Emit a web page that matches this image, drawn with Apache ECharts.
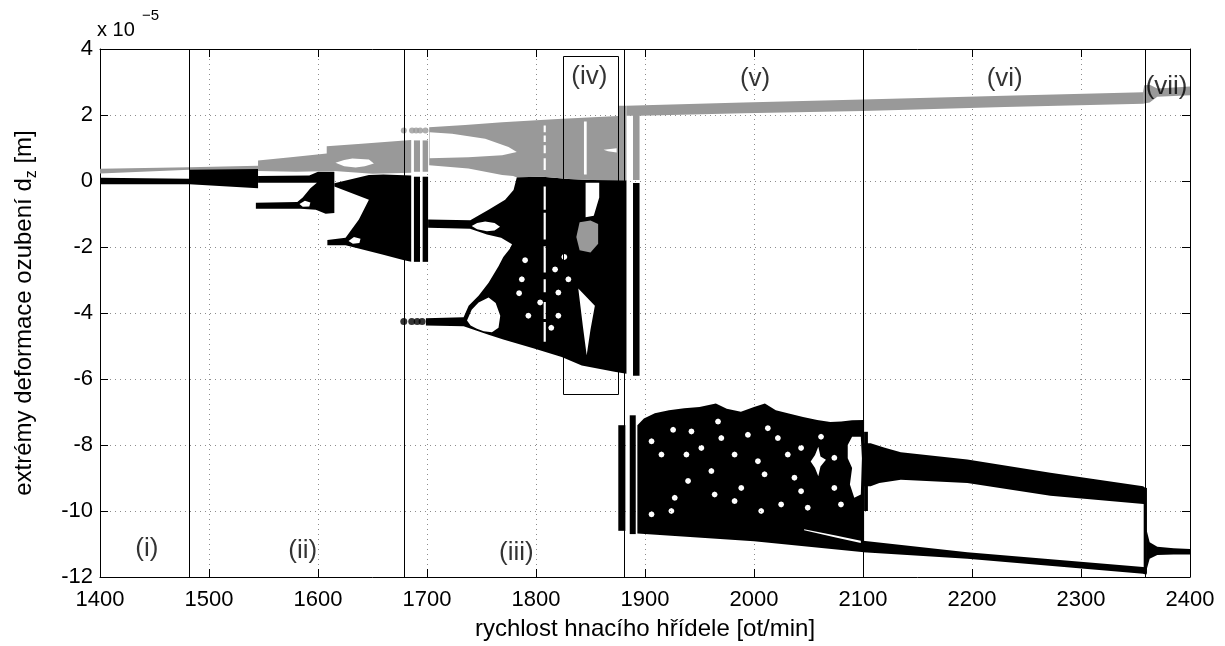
<!DOCTYPE html>
<html>
<head>
<meta charset="utf-8">
<script src="https://cdn.jsdelivr.net/npm/echarts/dist/echarts.min.js"></script>
<style>
  html, body { margin: 0; padding: 0; background: #fff; }
  #chart { width: 1225px; height: 646px; }
</style>
</head>
<body>
<div id="chart"></div>
<script>
// Bifurcation diagram of gear mesh deformation extremes vs. drive shaft speed.
// Deformation values are in units of 1e-5 m; speed in rpm.
// Dense regions of extremes are stored as outline polygons [speed, deformation].

const speedRange = [1400, 2400];
const deformRange = [-12, 4];

// Boundaries between dynamic regimes and their names
const regionBounds = [1482, 1679, 1881, 2100, 2359];
const regionNames = ['(i)', '(ii)', '(iii)', '(iv)', '(v)', '(vi)', '(vii)'];
const regionNamePos = [[1443, -11.16], [1586, -11.2], [1782, -11.28], [1849, 3.16], [2001, 3.11], [2230, 3.11], [2378.5, 2.84]];
// Zoomed window marked around regime (iv): [x0, yTop, x1, yBottom]
const windowIV = [1825, 3.79, 1875, -6.44];

// ---- minima (black) ----
const blackRegionI = [[1400, 0.1], [1482, 0.07], [1482, -0.1], [1400, -0.1]];
const blackBandII = [[1482, 0.36], [1545, 0.36], [1545, -0.22], [1482, -0.1]];
const blackKnotII = [[1545, 0.15], [1592, 0.17], [1600, 0.28], [1615, 0.28], [1615, -0.97], [1607, -0.99], [1598, -0.87], [1584, -0.84], [1543, -0.84], [1543, -0.66], [1581, -0.64], [1586, -0.5], [1593, -0.22], [1599, -0.05], [1545, -0.05]];
const blackKnotIIHole = [[1583, -0.7], [1588, -0.6], [1593, -0.65], [1592, -0.77], [1586, -0.78]];
const blackWedgeII = [[1615, -0.07], [1646.7, 0.18], [1660, 0.2], [1685.5, 0.17], [1685.5, -2.45], [1679, -2.4], [1659, -2.23], [1634.5, -2.02], [1625.3, -1.95], [1608.6, -1.95], [1608.6, -1.79], [1625.3, -1.72], [1637.5, -1.17], [1646.7, -0.57], [1615, -0.17]];
const blackWedgeIIHole = [[1628, -1.82], [1633, -1.7], [1639, -1.75], [1638, -1.88], [1632, -1.9]];
// strips: [x0, x1, yTop, yBottom]
const blackStripsIII = [[1688, 1693.6, 0.13, -2.45], [1696, 1701, 0.13, -2.45]];
const blackDotsIII = [[1678.7, -4.26], [1686, -4.26], [1691, -4.26], [1695.5, -4.26]];
const blackMassIII = [[1701, -1.17], [1739.7, -1.19], [1756.5, -0.87], [1771.7, -0.57], [1779.4, -0.27], [1782.4, 0.11], [1806, 0.13], [1830, 0.06], [1850, 0.03], [1883, 0.02], [1883, -5.84], [1872, -5.78], [1842, -5.59], [1823.6, -5.33], [1799, -5.08], [1770, -4.8], [1756.5, -4.66], [1733.6, -4.4], [1699, -4.38], [1699, -4.16], [1733.6, -4.13], [1738.2, -3.78], [1747.3, -3.48], [1756.5, -3.08], [1765.6, -2.58], [1770, -2.3], [1776, -2.05], [1778, -1.92], [1768, -1.72], [1755, -1.62], [1739.5, -1.45], [1701, -1.42]];
const blackLensIIIUpper = [[1741, -1.36], [1746, -1.27], [1753.4, -1.23], [1762, -1.27], [1767, -1.39], [1762, -1.5], [1755, -1.52], [1746, -1.46]];
const blackLensIIILower = [[1736.7, -4.23], [1741, -3.9], [1747.3, -3.68], [1756.5, -3.53], [1763, -3.7], [1767.2, -4.08], [1765.6, -4.45], [1759.6, -4.58], [1752, -4.55], [1745.8, -4.48], [1740, -4.38]];
const blackTriangleIV = [[1838.8, -3.26], [1854, -3.78], [1850, -4.5], [1846.5, -5.28], [1843, -4.4]];
const blackNotchIV = [[1845.5, -0.05], [1858, -0.05], [1858, -0.5], [1853, -1.05], [1845.5, -1.1]];
const blackGapsIII = [[1807, 1809, -0.17, -0.87], [1807, 1809, -0.96, -1.77], [1807, 1809, -1.98, -2.77], [1807, 1809, -2.98, -3.37], [1807, 1809, -3.67, -4.18], [1807, 1809, -4.27, -4.87]];
const blackSpecksIII = [[1787, -2.98], [1803.8, -3.68], [1784.5, -3.4], [1817.5, -2.68], [1820.5, -3.38], [1829.7, -2.98], [1820.5, -4.08], [1814, -4.45], [1793, -4.08], [1790, -2.4], [1826, -2.3]];
const blackStripIV = [1889, 1895, -0.06, -5.9];
const blackStripsV = [[1875.5, 1882, -7.4, -10.6], [1886, 1891.5, -7.1, -10.7], [2101, 2104.5, -7.6, -10.0]];
const blackCloudV = [[1893, -7.4], [1899, -7.2], [1909, -7.04], [1922, -6.95], [1936, -6.89], [1950, -6.85], [1965, -6.74], [1975, -6.9], [1988, -6.99], [2000, -6.85], [2010, -6.74], [2020, -6.95], [2031, -7.04], [2045, -7.15], [2058, -7.24], [2070, -7.3], [2080, -7.29], [2090, -7.25], [2101, -7.24], [2101, -11.25], [2000, -10.92], [1893, -10.68]];
const blackCloudVWedge = [[2046, -10.55], [2075, -10.74], [2098, -10.9], [2098, -10.97], [2075, -10.8], [2046, -10.58]];
const blackCloudVStar = [[2052, -8.5], [2056, -8.3], [2059, -8.05], [2061, -8.35], [2066, -8.45], [2061, -8.65], [2059, -8.95], [2056, -8.7]];
const blackCloudVGap = [[2086, -8.0], [2090, -7.75], [2098, -7.75], [2099, -8.4], [2098, -9.5], [2092, -9.6], [2088, -9.2], [2090, -8.7], [2086, -8.4]];
const blackCloudVSpecks = [[1925.8, -7.54], [1942.6, -7.59], [1967, -7.29], [1915.1, -8.29], [1906, -7.89], [1938, -8.29], [1951.7, -8.09], [1960.9, -8.79], [1939.5, -9.09], [1982.2, -8.29], [1988.3, -9.3], [2003.6, -8.49], [2009.7, -8.89], [2021.9, -7.79], [2031, -8.29], [2037.1, -8.99], [2043.2, -9.4], [2073.7, -8.39], [2073.7, -9.3], [2049.3, -9.9], [2024.9, -9.8], [2006.6, -10.0], [1982.2, -9.7], [1963.9, -9.5], [1924.2, -10.0], [1906, -10.1], [1994.4, -7.69], [1970, -7.79], [1927.3, -9.6], [2061.5, -7.75], [2079.8, -9.8], [2043.2, -8.09], [2012.7, -7.49]];
const blackBandVI = [[2101, -7.95], [2107, -7.95], [2120, -8.08], [2134.7, -8.22], [2195.7, -8.44], [2271.9, -8.84], [2357, -9.25], [2359, -9.3], [2359, -9.8], [2357.3, -9.79], [2271.9, -9.54], [2195.7, -9.15], [2134.7, -9.05], [2115, -9.15], [2107, -9.25], [2101, -9.25]];
const blackLowerVI = [[2100, -10.9], [2195.7, -11.25], [2357, -11.7], [2360, -11.72], [2360, -11.93], [2357, -11.9], [2195.7, -11.45], [2100, -11.25]];
const blackSpikeVII = [2357.5, 2360.5, -9.3, -11.9];
const blackFunnelVII = [[2360, -10.55], [2363, -10.95], [2370, -11.08], [2385, -11.13], [2400, -11.15], [2400, -11.32], [2385, -11.32], [2370, -11.33], [2363, -11.45], [2360, -11.8]];

// ---- maxima (grey) ----
const greyRegionI = [[1400, 0.37], [1482, 0.42], [1545, 0.46], [1545, 0.36], [1482, 0.34], [1400, 0.23]];
const greyFanII = [[1545, 0.62], [1575, 0.72], [1608, 0.83], [1608, 1.05], [1640, 1.13], [1685.5, 1.24], [1685.5, 0.25], [1650, 0.22], [1615, 0.3], [1580, 0.28], [1545, 0.3]];
const greyFanIIHole = [[1616, 0.55], [1624, 0.64], [1631.5, 0.68], [1646.7, 0.65], [1651.3, 0.53], [1643, 0.45], [1634.5, 0.41], [1624, 0.45]];
const greyStripsIII = [[1688, 1693.6, 1.23, 0.28], [1696, 1701, 1.23, 0.28]];
const greyDotsIII = [[1678.7, 1.53], [1686.3, 1.53], [1690, 1.53], [1693.7, 1.53], [1698.6, 1.53]];
const greyFanIII = [[1702, 1.63], [1735, 1.7], [1769, 1.78], [1820, 1.88], [1875.5, 1.97], [1875.5, 2.28], [1883, 2.28], [1883, 0.02], [1850, 0.03], [1830, 0.06], [1806, 0.13], [1782, 0.11], [1779, 0.15], [1769, 0.18], [1738, 0.38], [1702, 0.48]];
const greyFanIIIHole = [[1702.5, 1.48], [1723, 1.43], [1753.4, 1.28], [1774.8, 1.03], [1782.4, 0.88], [1769, 0.78], [1738, 0.72], [1702.5, 0.69]];
const greyNotchIII = [[1862, 0.95], [1874, 0.99], [1874, 0.86], [1866, 0.9]];
const greyGapsIII = [[1807, 1809, 1.68, 1.48], [1807, 1809, 1.38, 1.18], [1807, 1809, 1.08, 0.84], [1807, 1809, 0.69, 0.33], [1844, 1846.5, 1.8, 0.2]];
const greyBlobIV = [[1837, -1.7], [1840, -1.25], [1850, -1.2], [1857, -1.3], [1857, -1.9], [1850, -2.17], [1840, -2.1]];
const greyBandV = [[1883, 2.28], [1990, 2.38], [2100, 2.47], [2230, 2.58], [2357, 2.69], [2357, 2.34], [2230, 2.24], [2100, 2.12], [1990, 2.05], [1895, 1.98], [1895, 0.03], [1889, 0.03], [1889, 1.98], [1883, 1.98]];
const greyBandVII = [[2357, 2.69], [2358, 2.9], [2363, 2.92], [2370, 2.8], [2400, 2.86], [2400, 2.6], [2370, 2.55], [2363, 2.38], [2358, 2.35], [2357, 2.34]];

const BLACK = '#000000';
const GREY = '#999999';
const SPECK_R = 3;
const FONT = '"Liberation Sans", Arial, Helvetica, sans-serif';

function rect(r) {
  return [[r[0], r[2]], [r[1], r[2]], [r[1], r[3]], [r[0], r[3]]];
}

const blackShapes = [
  { outer: blackRegionI },
  { outer: blackBandII },
  { outer: blackKnotII, holes: [blackKnotIIHole] },
  { outer: blackWedgeII, holes: [blackWedgeIIHole] },
  ...blackStripsIII.map(r => ({ outer: rect(r) })),
  { outer: blackMassIII, holes: [blackLensIIIUpper, blackLensIIILower, blackTriangleIV, blackNotchIV, ...blackGapsIII.map(rect)], specks: blackSpecksIII },
  { outer: rect(blackStripIV) },
  ...blackStripsV.map(r => ({ outer: rect(r) })),
  { outer: blackCloudV, holes: [blackCloudVWedge, blackCloudVStar, blackCloudVGap], specks: blackCloudVSpecks },
  { outer: blackBandVI },
  { outer: blackLowerVI },
  { outer: rect(blackSpikeVII) },
  { outer: blackFunnelVII }
];

const greyShapes = [
  { outer: greyRegionI },
  { outer: greyFanII, holes: [greyFanIIHole] },
  ...greyStripsIII.map(r => ({ outer: rect(r) })),
  { outer: greyFanIII, holes: [greyFanIIIHole, greyNotchIII, ...greyGapsIII.map(rect)] },
  { outer: greyBlobIV },
  { outer: greyBandV },
  { outer: greyBandVII }
];

function signedArea(pts) {
  let a = 0;
  for (let i = 0; i < pts.length; i++) {
    const p = pts[i], q = pts[(i + 1) % pts.length];
    a += p[0] * q[1] - q[0] * p[1];
  }
  return a / 2;
}

// outer rings and holes get opposite winding so the non-zero fill leaves holes empty
function ringPath(pts, positive) {
  let ring = pts;
  if ((signedArea(pts) > 0) !== positive) ring = pts.slice().reverse();
  return 'M' + ring.map(p => p[0].toFixed(2) + ' ' + p[1].toFixed(2)).join('L') + 'Z';
}

function shapeRenderer(shapes, color) {
  return function (params, api) {
    const s = shapes[params.dataIndex];
    let d = ringPath(s.outer.map(p => api.coord(p)), true);
    (s.holes || []).forEach(h => { d += ringPath(h.map(p => api.coord(p)), false); });
    (s.specks || []).forEach(c => {
      const ctr = api.coord(c);
      const pts = [];
      for (let k = 0; k < 8; k++) {
        const a = k * Math.PI / 4;
        pts.push([ctr[0] + SPECK_R * Math.cos(a), ctr[1] + SPECK_R * Math.sin(a)]);
      }
      d += ringPath(pts, false);
    });
    return { type: 'path', shape: { pathData: d }, style: { fill: color } };
  };
}

const chart = echarts.init(document.getElementById('chart'), null, { renderer: 'canvas' });

const baseAxisLine = { show: true, onZero: false, lineStyle: { color: '#000', width: 1 } };
const baseTick = { show: true, inside: true, length: 8, lineStyle: { color: '#000', width: 1 } };
const gridDots = { show: true, lineStyle: { color: '#8c8c8c', width: 1, type: [1, 4] } };

const option = {
  animation: false,
  backgroundColor: '#fff',
  textStyle: { fontFamily: FONT },
  grid: { left: 98, right: 35, top: 49, bottom: 66, containLabel: false },
  graphic: [
    { type: 'text', left: 97, top: 20, style: { text: 'x 10', fontSize: 20, fontFamily: FONT, fill: '#000' } },
    { type: 'text', left: 142, top: 8, style: { text: '\u22125', fontSize: 15, fontFamily: FONT, fill: '#000' } }
  ],
  xAxis: [
    {
      type: 'value', position: 'bottom', min: speedRange[0], max: speedRange[1], interval: 100,
      axisLine: baseAxisLine, axisTick: baseTick, splitLine: gridDots,
      axisLabel: { color: '#000', fontSize: 22, margin: 12, fontFamily: FONT, formatter: v => String(v) },
      name: 'rychlost hnacího hřídele [ot/min]', nameLocation: 'middle', nameGap: 40,
      nameTextStyle: { color: '#000', fontSize: 24, fontFamily: FONT }
    },
    {
      type: 'value', position: 'top', min: speedRange[0], max: speedRange[1], interval: 100,
      axisLine: baseAxisLine, axisTick: baseTick, splitLine: { show: false }, axisLabel: { show: false }
    }
  ],
  yAxis: [
    {
      type: 'value', position: 'left', min: deformRange[0], max: deformRange[1], interval: 2,
      axisLine: baseAxisLine, axisTick: baseTick, splitLine: gridDots,
      axisLabel: { color: '#000', fontSize: 22, margin: 7, fontFamily: FONT, formatter: v => String(v) },
      name: 'extrémy deformace ozubení d{sub|z} [m]', nameLocation: 'middle', nameGap: 60, nameRotate: 90,
      nameTextStyle: {
        color: '#000', fontSize: 24, fontFamily: FONT, lineHeight: 32,
        rich: { sub: { fontSize: 16, lineHeight: 16, verticalAlign: 'bottom', fontFamily: FONT, color: '#000' } }
      }
    },
    {
      type: 'value', position: 'right', min: deformRange[0], max: deformRange[1], interval: 2,
      axisLine: baseAxisLine, axisTick: baseTick, splitLine: { show: false }, axisLabel: { show: false }
    }
  ],
  series: [
    {
      name: 'minima', type: 'custom', coordinateSystem: 'cartesian2d', xAxisIndex: 0, yAxisIndex: 0,
      clip: true, z: 2, silent: true,
      renderItem: shapeRenderer(blackShapes, BLACK),
      data: blackShapes.map(s => s.outer[0])
    },
    {
      name: 'maxima', type: 'custom', coordinateSystem: 'cartesian2d', xAxisIndex: 0, yAxisIndex: 0,
      clip: true, z: 3, silent: true,
      renderItem: shapeRenderer(greyShapes, GREY),
      data: greyShapes.map(s => s.outer[0])
    },
    {
      name: 'minima points', type: 'scatter', xAxisIndex: 0, yAxisIndex: 0, z: 3, silent: true,
      symbol: 'circle', symbolSize: 7, itemStyle: { color: BLACK },
      data: blackDotsIII
    },
    {
      name: 'maxima points', type: 'scatter', xAxisIndex: 0, yAxisIndex: 0, z: 3, silent: true,
      symbol: 'circle', symbolSize: 6, itemStyle: { color: GREY },
      data: greyDotsIII
    },
    {
      name: 'regime bounds', type: 'custom', coordinateSystem: 'cartesian2d', z: 4, silent: true, clip: false,
      renderItem: function (params, api) {
        const top = api.coord([api.value(0), deformRange[1]]);
        const bot = api.coord([api.value(0), deformRange[0]]);
        return { type: 'line', shape: { x1: Math.round(top[0]) + 0.5, y1: top[1], x2: Math.round(bot[0]) + 0.5, y2: bot[1] }, style: { stroke: '#000', lineWidth: 1 } };
      },
      data: regionBounds.map(x => [x, deformRange[0]])
    },
    {
      name: 'window iv', type: 'custom', coordinateSystem: 'cartesian2d', z: 4, silent: true, clip: false,
      renderItem: function (params, api) {
        const a = api.coord([api.value(0), api.value(1)]);
        const b = api.coord([api.value(2), api.value(3)]);
        return { type: 'rect', shape: { x: Math.round(a[0]) + 0.5, y: Math.round(a[1]) + 0.5, width: Math.round(b[0] - a[0]), height: Math.round(b[1] - a[1]) }, style: { fill: 'none', stroke: '#000', lineWidth: 1 } };
      },
      data: [windowIV]
    },
    {
      name: 'regime names', type: 'scatter', z: 5, silent: true, symbolSize: 1,
      itemStyle: { color: 'rgba(0,0,0,0)' },
      label: {
        show: true, position: 'inside', color: '#000', fontSize: 26, fontFamily: FONT,
        formatter: p => regionNames[p.dataIndex]
      },
      data: regionNamePos
    }
  ]
};

chart.setOption(option);
</script>
</body>
</html>
